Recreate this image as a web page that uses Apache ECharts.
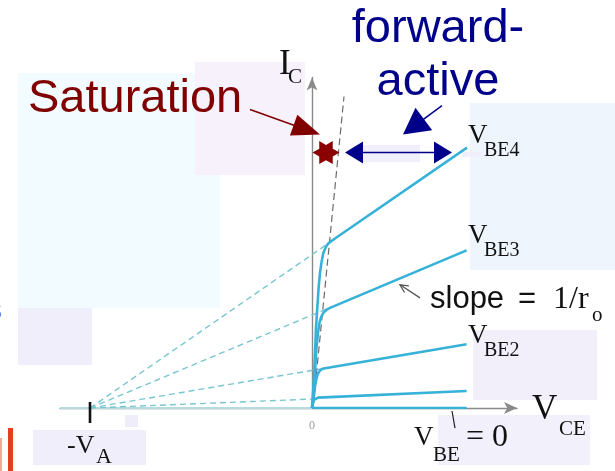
<!DOCTYPE html>
<html>
<head>
<meta charset="utf-8">
<script src="https://cdn.jsdelivr.net/npm/echarts@6/dist/echarts.min.js"></script>
<style>
  html, body { margin: 0; padding: 0; background: #ffffff; }
  #chart { width: 615px; height: 471px; }
</style>
</head>
<body>
<div id="chart"></div>
<script>
// Axis extents (V_CE horizontally, I_C vertically, arbitrary units)
const xRange = [-12.6, 10.25];
const yRange = [0, 16.5];

// Early voltage: the straight parts of all curves meet the V_CE axis here
const earlyX = -11.1;

// I_C versus V_CE for increasing base-emitter voltage
const vbe0 = [[0, 0], [7.73, 0]];
const vbe1 = [[0, 0], [0.05, 0.25], [0.1, 0.4], [0.18, 0.48], [0.3, 0.52], [7.73, 0.85]];
const vbe2 = [[0, 0], [0.04, 0.07], [0.1, 0.65], [0.15, 1.07], [0.21, 1.4], [0.27, 1.65], [0.35, 1.8],
              [0.43, 1.9], [0.58, 1.97], [0.73, 2.0], [7.73, 3.18]];
const vbe3 = [[0, 0], [0.04, 0.07], [0.1, 0.9], [0.15, 1.75], [0.19, 2.5], [0.23, 3.07], [0.3, 3.75],
              [0.37, 4.23], [0.46, 4.55], [0.57, 4.75], [0.72, 4.9], [0.9, 5.0], [7.73, 7.87]];
const vbe4 = [[0, 0], [0.04, 0.07], [0.1, 1.5], [0.15, 2.75], [0.2, 4.0], [0.27, 5.07], [0.33, 6.0],
              [0.4, 6.75], [0.48, 7.3], [0.57, 7.75], [0.7, 8.05], [0.82, 8.22], [1.0, 8.36],
              [1.15, 8.46], [7.75, 13.0]];
const curveNames = ['V_BE = 0', 'V_BE1', 'V_BE2', 'V_BE3', 'V_BE4'];

// Where each traced-back straight segment leaves its curve
const kneePoints = [[0.1, 0.45], [0.5, 1.96], [0.7, 4.93], [0.7, 8.14]];

// Boundary of the saturation region
const satEdge = [[0.05, 0], [1.6, 15.55]];

// Star marking the saturation / forward-active border
const satMarker = [[0.7, 12.75]];

// Annotation arrows: [x1, y1, x2, y2]
const pointerArrows = [
  [-3.1, 14.9, 0.4, 13.65],   // "Saturation"
  [6.5, 15.1, 4.55, 13.65],   // "forward-active"
  [1.65, 12.75, 7.0, 12.75],  // forward-active span
  [5.4, 5.5, 4.4, 6.15],      // slope = 1/r_o
  [7.0, -0.15, 7.15, -1.0],   // V_BE = 0
  [earlyX, 0.3, earlyX, -0.75] // -V_A tick
];
const arrowLook = [
  { color: '#800000', width: 1.5, end: 'solid', len: 28, half: 11 },
  { color: '#00008b', width: 1.5, end: 'solid', len: 26, half: 14 },
  { color: '#00008b', width: 1.5, start: 'solid', end: 'solid', len: 18, half: 11 },
  { color: '#555555', width: 1.3, end: 'open', len: 8, half: 4 },
  { color: '#222222', width: 1.2 },
  { color: '#111111', width: 2.6 }
];

const SERIF = '"Liberation Serif", "Times New Roman", serif';
const SANS = '"Liberation Sans", Arial, sans-serif';
const CURVE = '#36b2d8';
const EXTEND = '#79c6d1';

// Text pieces: [text, x, baseline, size, family, color, align]
const texts = [
  ['Saturation', 28, 115, 47, SANS, '#800000', 'left'],
  ['forward-', 438, 45, 47, SANS, '#00008b', 'center'],
  ['active', 438, 98, 47, SANS, '#00008b', 'center'],
  ['I', 279, 77, 35, SERIF, '#111111', 'left'],
  ['C', 288, 85, 21, SERIF, '#111111', 'left'],
  ['V', 468, 145, 27, SERIF, '#111111', 'left'],
  ['BE4', 484, 158, 20, SERIF, '#111111', 'left'],
  ['V', 468, 245, 27, SERIF, '#111111', 'left'],
  ['BE3', 484, 258, 20, SERIF, '#111111', 'left'],
  ['V', 468, 345, 27, SERIF, '#111111', 'left'],
  ['BE2', 484, 358, 20, SERIF, '#111111', 'left'],
  ['V', 532, 422, 35, SERIF, '#111111', 'left'],
  ['CE', 559, 437, 21, SERIF, '#111111', 'left'],
  ['V', 414, 447, 27, SERIF, '#111111', 'left'],
  ['BE', 433, 463, 21, SERIF, '#111111', 'left'],
  ['= 0', 466, 448, 32, SERIF, '#111111', 'left'],
  ['-V', 67, 455, 26, SERIF, '#111111', 'left'],
  ['A', 96, 465, 22, SERIF, '#111111', 'left'],
  ['slope', 430, 310, 31, SANS, '#111111', 'left'],
  ['=', 518, 310, 31, SANS, '#111111', 'left'],
  ['1/r', 553, 310, 32, SERIF, '#111111', 'left'],
  ['o', 592, 323, 21, SERIF, '#111111', 'left'],
  ['0', 312, 430, 12, SERIF, '#9a9a9a', 'center'],
  ['s', -13, 321, 30, SANS, '#2f6fe0', 'left']
];

// Pale backdrop panels: [x, y, w, h, colour]
const panels = [
  [18, 73, 202, 235, '#f2fbff'],
  [195, 62, 110, 113, '#f6f1fb'],
  [18, 308, 74, 57, '#f0eefb'],
  [33, 430, 113, 35, '#f0eefb'],
  [125, 415, 13, 12, '#efedfa'],
  [470, 103, 145, 167, '#eff5fc'],
  [473, 330, 124, 70, '#f2effa'],
  [438, 415, 152, 50, '#f1f0fb'],
  [363, 145, 57, 17, '#f1effb'],
  [462, 152, 20, 5, '#f1effb'],
  [0, 438, 2, 33, '#f3a898'],
  [8, 428, 5, 43, '#e2401c']
];

function textEl(t) {
  return {
    type: 'text', z: 20,
    style: {
      text: t[0], x: t[1], y: t[2] - 0.34 * t[3],
      font: t[3] + 'px ' + t[4], fill: t[5],
      align: t[6], verticalAlign: 'middle'
    }
  };
}
function panelEl(p) {
  return { type: 'rect', z: -5, shape: { x: p[0], y: p[1], width: p[2], height: p[3] }, style: { fill: p[4] } };
}

function renderArrow(params, api) {
  const s = arrowLook[params.dataIndex];
  const p1 = api.coord([api.value(0), api.value(1)]);
  const p2 = api.coord([api.value(2), api.value(3)]);
  const dx = p2[0] - p1[0], dy = p2[1] - p1[1];
  const L = Math.hypot(dx, dy) || 1;
  const ux = dx / L, uy = dy / L, nx = -uy, ny = ux;
  const children = [];
  let a = p1.slice(), b = p2.slice();
  function head(tip, dirx, diry) {
    const bx = tip[0] - dirx * s.len, by = tip[1] - diry * s.len;
    return [tip, [bx + nx * s.half, by + ny * s.half], [bx - nx * s.half, by - ny * s.half]];
  }
  if (s.end === 'solid') {
    children.push({ type: 'polygon', shape: { points: head(p2, ux, uy) }, style: { fill: s.color } });
    b = [p2[0] - ux * s.len * 0.7, p2[1] - uy * s.len * 0.7];
  } else if (s.end === 'open') {
    const h = head(p2, ux, uy);
    children.push({ type: 'polyline', shape: { points: [h[1], p2, h[2]] }, style: { stroke: s.color, fill: 'none', lineWidth: s.width } });
  }
  if (s.start === 'solid') {
    children.push({ type: 'polygon', shape: { points: head(p1, -ux, -uy) }, style: { fill: s.color } });
    a = [p1[0] + ux * s.len * 0.7, p1[1] + uy * s.len * 0.7];
  }
  children.push({ type: 'line', shape: { x1: a[0], y1: a[1], x2: b[0], y2: b[1] }, style: { stroke: s.color, lineWidth: s.width } });
  return { type: 'group', children: children };
}

function curve(name, data) {
  return {
    name: name, type: 'line', data: data, showSymbol: false, z: 5, smooth: false,
    lineStyle: { color: CURVE, width: 2.6, join: 'round' }
  };
}
function extension(knee) {
  return {
    type: 'line', data: [[earlyX, 0], knee], showSymbol: false, z: 3,
    lineStyle: { color: EXTEND, width: 1.4, type: [6, 4] }
  };
}

const hexagram = 'path://M100,50 L75,35.57 L75,6.7 L50,21.13 L25,6.7 L25,35.57 L0,50 L25,64.43 L25,93.3 L50,78.87 L75,93.3 L75,64.43 Z';

const chart = echarts.init(document.getElementById('chart'), null, { renderer: 'canvas' });
chart.setOption({
  animation: false,
  backgroundColor: '#ffffff',
  grid: { left: 60, right: 98, top: 77.5, bottom: 63 },
  xAxis: {
    type: 'value', min: xRange[0], max: xRange[1],
    axisLine: { onZero: true, lineStyle: { color: '#8a8a8a', width: 1.4 }, symbol: ['none', 'arrow'], symbolSize: [9, 13] },
    axisTick: { show: false }, axisLabel: { show: false }, splitLine: { show: false }
  },
  yAxis: {
    type: 'value', min: yRange[0], max: yRange[1],
    axisLine: { onZero: true, lineStyle: { color: '#8a8a8a', width: 1.4 }, symbol: ['none', 'arrow'], symbolSize: [8, 13] },
    axisTick: { show: false }, axisLabel: { show: false }, splitLine: { show: false }
  },
  graphic: { elements: panels.map(panelEl).concat(texts.map(textEl)) },
  series: [
    {
      type: 'line', data: [[xRange[0], 0], [0, 0]], showSymbol: false, z: 2,
      lineStyle: { color: '#b3dbe0', width: 2.2 }
    },
    ...kneePoints.map(extension),
    {
      type: 'line', data: satEdge, showSymbol: false, z: 4,
      lineStyle: { color: '#6a6a6a', width: 1.2, type: [7, 4] }
    },
    curve(curveNames[0], vbe0),
    curve(curveNames[1], vbe1),
    curve(curveNames[2], vbe2),
    curve(curveNames[3], vbe3),
    curve(curveNames[4], vbe4),
    {
      type: 'custom', data: pointerArrows, renderItem: renderArrow, z: 8,
      encode: { x: [0, 2], y: [1, 3] }, clip: false
    },
    {
      type: 'scatter', data: satMarker, symbol: hexagram, symbolSize: [27, 23], z: 9,
      itemStyle: { color: '#8b0000', opacity: 1 }, clip: false
    }
  ]
});
</script>
</body>
</html>
